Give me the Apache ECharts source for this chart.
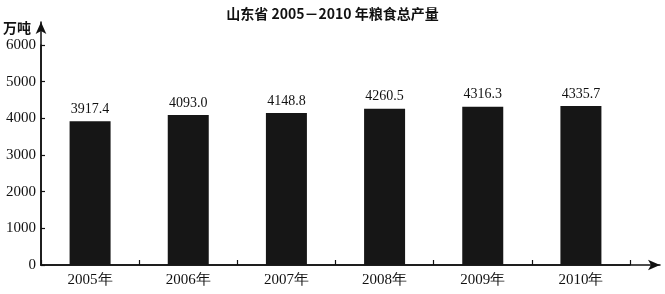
<!DOCTYPE html>
<html><head><meta charset="utf-8">
<script src="https://cdn.jsdelivr.net/npm/echarts@6/dist/echarts.min.js"></script>
<style>html,body{margin:0;padding:0;background:#fff}#c{width:665px;height:294px}</style>
</head><body><div id="c"></div>
<script>
const titleText = '山东省 2005－2010 年粮食总产量';
const unitName = '万吨';
const categories = ['2005年','2006年','2007年','2008年','2009年','2010年'];
const values = [3917.4, 4093.0, 4148.8, 4260.5, 4316.3, 4335.7];
const yMin = 0, yMax = 6000, yStep = 1000;

const chart = echarts.init(document.getElementById('c'));
const serif = '"Liberation Serif", "Times New Roman", serif';
chart.setOption({
  animation: false,
  backgroundColor: '#fff',
  title: {
    text: titleText, left: 'center', top: 2,
    textStyle: { fontFamily: '"Noto Sans CJK SC", sans-serif', fontSize: 14, fontWeight: 'bold', color: '#111' }
  },
  grid: [
    { left: 41, right: 35, top: 45, bottom: 29 },
    { left: 41, right: 5, top: 22, bottom: 29 }
  ],
  xAxis: [
    { type: 'category', data: categories, gridIndex: 0,
      axisLine: { show: true, lineStyle: { color: '#111', width: 1.5 } },
      axisTick: { show: true, inside: true, length: 5, lineStyle: { color: '#111', width: 1.2 } },
      axisLabel: { margin: 8, color: '#111', fontFamily: serif, fontSize: 15 },
      splitLine: { show: false }
    },
    { type: 'value', gridIndex: 1, min: 0, max: 1,
      axisLine: { show: true, symbol: ['none','arrow'], symbolSize: [8, 12], lineStyle: { color: '#111', width: 1.5 } },
      axisTick: { show: false }, axisLabel: { show: false }, splitLine: { show: false }
    }
  ],
  yAxis: [
    { type: 'value', gridIndex: 0, min: yMin, max: yMax, interval: yStep,
      name: unitName, nameLocation: 'end', nameGap: 10,
      nameTextStyle: { align: 'right', padding: [0, 10, 0, 0], fontFamily: '"Noto Sans CJK SC", sans-serif', fontWeight: 'bold', fontSize: 14, color: '#111' },
      axisLine: { show: true, lineStyle: { color: '#111', width: 1.5 } },
      axisTick: { show: true, inside: true, length: 4, lineStyle: { color: '#111', width: 1.2 } },
      axisLabel: { margin: 5, color: '#111', fontFamily: serif, fontSize: 15, formatter: v => String(v) },
      splitLine: { show: false }
    },
    { type: 'value', gridIndex: 1, min: 0, max: 1,
      axisLine: { show: true, symbol: ['none','arrow'], symbolSize: [8, 12], lineStyle: { color: '#111', width: 1.5 } },
      axisTick: { show: false }, axisLabel: { show: false }, splitLine: { show: false }
    }
  ],
  series: [{
    type: 'bar', xAxisIndex: 0, yAxisIndex: 0,
    data: values, barWidth: 41,
    itemStyle: { color: '#161616' },
    label: { show: true, position: 'top', distance: 5, color: '#111', fontFamily: serif, fontSize: 14,
      formatter: p => p.value.toFixed(1) }
  }]
});
</script></body></html>
